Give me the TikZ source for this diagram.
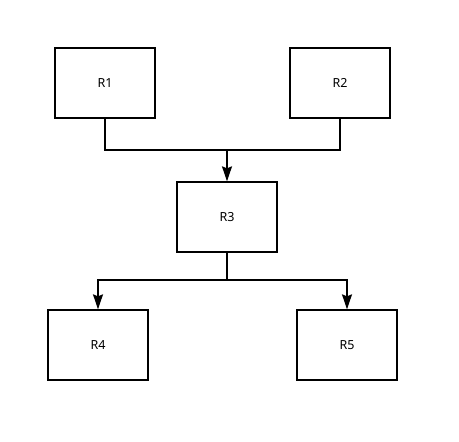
\documentclass[tikz,border=0pt]{standalone}
\usepackage{fontspec}
\setmainfont{Noto Sans}
\usetikzlibrary{arrows.meta}
\begin{document}
\begin{tikzpicture}[x=1pt,y=-1pt,
  box/.style={draw,line width=1.3pt,minimum width=100pt,minimum height=70pt,inner sep=0pt,font=\fontsize{12.5}{13}\selectfont},
  conn/.style={line width=1.3pt},
  arr/.style={conn,-{Stealth[length=15pt,width=10pt,inset=2pt]}}]
\useasboundingbox[fill=white] (0,0) rectangle (459,442);
\node[box] (r1) at (105,83) {R1};
\node[box] (r2) at (340,83) {R2};
\node[box] (r3) at (227,217) {R3};
\node[box] (r4) at (98,345) {R4};
\node[box] (r5) at (347,345) {R5};
\coordinate (j1) at (227,150);
\coordinate (j2) at (227,280);
\draw[conn] (r1.south) |- (j1) -| (r2.south);
\draw[arr] (j1) -- (r3.north);
\draw[conn] (r3.south) -- (j2);
\draw[arr] (j2) -| (r4.north);
\draw[arr] (j2) -| (r5.north);
\end{tikzpicture}
\end{document}
